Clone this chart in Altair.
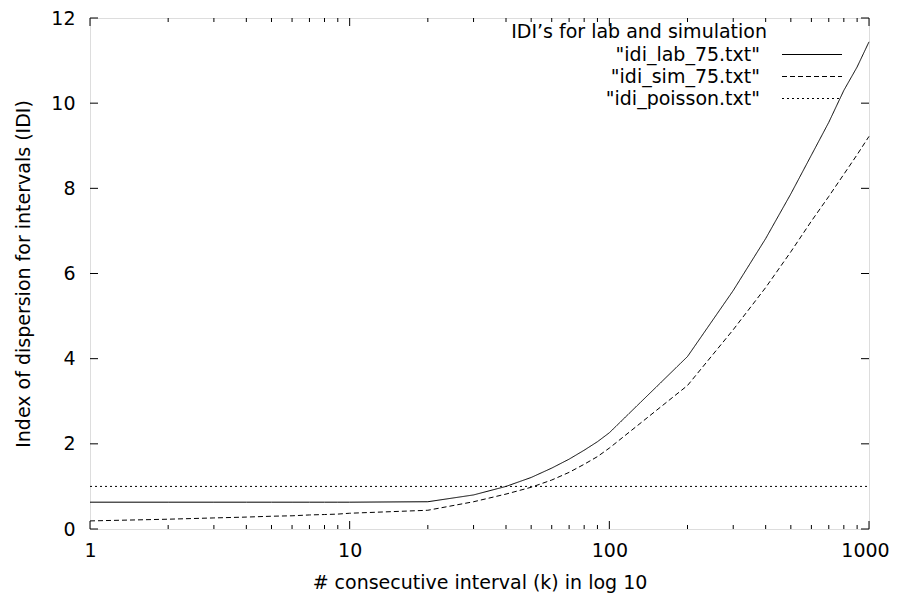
import altair as alt
import pandas as pd

# ---- data ----
k = [1, 2, 3, 4, 5, 6, 7, 8, 9, 10,
     20, 30, 40, 50, 60, 70, 80, 90, 100,
     200, 300, 400, 500, 600, 700, 800, 900, 1000]
idi_lab = [0.63, 0.63, 0.63, 0.63, 0.63, 0.63, 0.63, 0.63, 0.63, 0.63,
           0.64, 0.80, 1.00, 1.21, 1.43, 1.64, 1.85, 2.05, 2.26,
           4.05, 5.60, 6.82, 7.87, 8.78, 9.55, 10.30, 10.85, 11.44]
idi_sim = [0.19, 0.23, 0.26, 0.28, 0.30, 0.31, 0.33, 0.34, 0.35, 0.37,
           0.44, 0.64, 0.82, 0.98, 1.15, 1.33, 1.52, 1.70, 1.90,
           3.37, 4.68, 5.67, 6.51, 7.23, 7.81, 8.33, 8.79, 9.22]
idi_poisson = [1.0, 1.0, 1.0, 1.0, 1.0, 1.0, 1.0, 1.0, 1.0, 1.0,
               1.0, 1.0, 1.0, 1.0, 1.0, 1.0, 1.0, 1.0, 1.0,
               1.0, 1.0, 1.0, 1.0, 1.0, 1.0, 1.0, 1.0, 1.0]
series_names = ['"idi_lab_75.txt"', '"idi_sim_75.txt"', '"idi_poisson.txt"']
legend_rows = [0, 1, 2]

x_major = [1, 10, 100, 1000]
x_minor = [2, 3, 4, 5, 6, 7, 8, 9, 20, 30, 40, 50, 60, 70, 80, 90,
           200, 300, 400, 500, 600, 700, 800, 900]
y_ticks = [0, 2, 4, 6, 8, 10, 12]

legend_title = ["IDI’s for lab and simulation"]
x_title = "# consecutive interval (k) in log 10"
y_title = "Index of dispersion for intervals (IDI)"

rows = []
for name, vals in zip(series_names, [idi_lab, idi_sim, idi_poisson]):
    for kk, v in zip(k, vals):
        rows.append({"k": kk, "idi": v, "series": name})
df = pd.DataFrame(rows)
leg_df = pd.DataFrame({"series": series_names, "row": legend_rows})
xmaj_df = pd.DataFrame({"v": x_major})
xmin_df = pd.DataFrame({"v": x_minor})
yt_df = pd.DataFrame({"v": y_ticks})
title_df = pd.DataFrame({"t": legend_title})

FONT = "DejaVu Sans"
FS = 19
W, H = 779, 511
MAJ, MIN = 8, 4

xscale = alt.Scale(type="log", domain=[1, 1000], nice=False)
yscale = alt.Scale(domain=[0, 12], nice=False, zero=False)
dash_scale = alt.Scale(domain=series_names, range=[[1, 0], [5, 3], [2, 3]])

# ---- main lines with axes (labels + titles only) ----
main = alt.Chart(df).mark_line(color="black", strokeWidth=1).encode(
    x=alt.X("k:Q", scale=xscale,
            axis=alt.Axis(values=x_major, format="d", domain=False, grid=False,
                          ticks=True, tickSize=0, labelPadding=12,
                          labelOffset={"condition": {"test": "datum.value === 1000",
                                                     "value": -4},
                                       "value": 0},
                          labelFont=FONT, labelFontSize=FS, labelColor="black",
                          labelFlush=False, labelOverlap=False,
                          title=x_title, titlePadding=13, titleFont=FONT,
                          titleFontSize=FS, titleFontWeight="normal",
                          titleColor="black")),
    y=alt.Y("idi:Q", scale=yscale,
            axis=alt.Axis(values=y_ticks, format="d", domain=False, grid=False,
                          ticks=True, tickSize=0, labelPadding=15,
                          labelFont=FONT, labelFontSize=FS, labelColor="black",
                          labelFlush=False, labelOverlap=False,
                          title=y_title, titlePadding=17, titleFont=FONT,
                          titleFontSize=FS, titleFontWeight="normal",
                          titleColor="black")),
    strokeDash=alt.StrokeDash("series:N", scale=dash_scale, legend=None),
)

# ---- inward ticks on all four sides (gnuplot style) ----
def xticks(data, top, size):
    if top:
        ys = dict(y=alt.value(0), y2=alt.value(size))
    else:
        ys = dict(y=alt.value(H), y2=alt.value(H - size))
    return alt.Chart(data).mark_rule(color="black", strokeWidth=1).encode(
        x=alt.X("v:Q", scale=xscale, axis=None), **ys)


def yticks(right):
    if right:
        xs = dict(x=alt.value(W), x2=alt.value(W - MAJ))
    else:
        xs = dict(x=alt.value(0), x2=alt.value(MAJ))
    return alt.Chart(yt_df).mark_rule(color="black", strokeWidth=1).encode(
        y=alt.Y("v:Q", scale=yscale, axis=None), **xs)


tick_layers = [xticks(xmaj_df, False, MAJ), xticks(xmin_df, False, MIN),
               xticks(xmaj_df, True, MAJ), xticks(xmin_df, True, MIN),
               yticks(False), yticks(True)]

# ---- gnuplot-style key, top right inside the plot ----
leg_y = alt.Y("row:Q", scale=alt.Scale(domain=[0, 2], range=[36.5, 80.5]), axis=None)

leg_lines = alt.Chart(leg_df).mark_rule(color="black", strokeWidth=1).encode(
    x=alt.value(692), x2=alt.value(752), y=leg_y,
    strokeDash=alt.StrokeDash("series:N", scale=dash_scale, legend=None),
)
leg_text = alt.Chart(leg_df).mark_text(
    align="right", baseline="middle", font=FONT, fontSize=FS, color="black"
).encode(x=alt.value(670), y=leg_y, text="series:N")
leg_title = alt.Chart(title_df).mark_text(
    align="right", baseline="middle", font=FONT, fontSize=FS, color="black"
).encode(x=alt.value(677), y=alt.value(14), text="t:N")

chart = alt.layer(main, *tick_layers, leg_lines, leg_text, leg_title).resolve_scale(
    y="independent"
).resolve_axis(
    x="independent", y="independent"
).properties(
    width=W, height=H,
    autosize=alt.AutoSizeParams(type="none"),
    padding={"left": 82, "top": 10, "right": 21, "bottom": 67},
).configure_view(
    stroke="black", strokeWidth=1
).configure(background="white")

chart.save("out.html", embed_options={"renderer": "svg", "actions": False})
